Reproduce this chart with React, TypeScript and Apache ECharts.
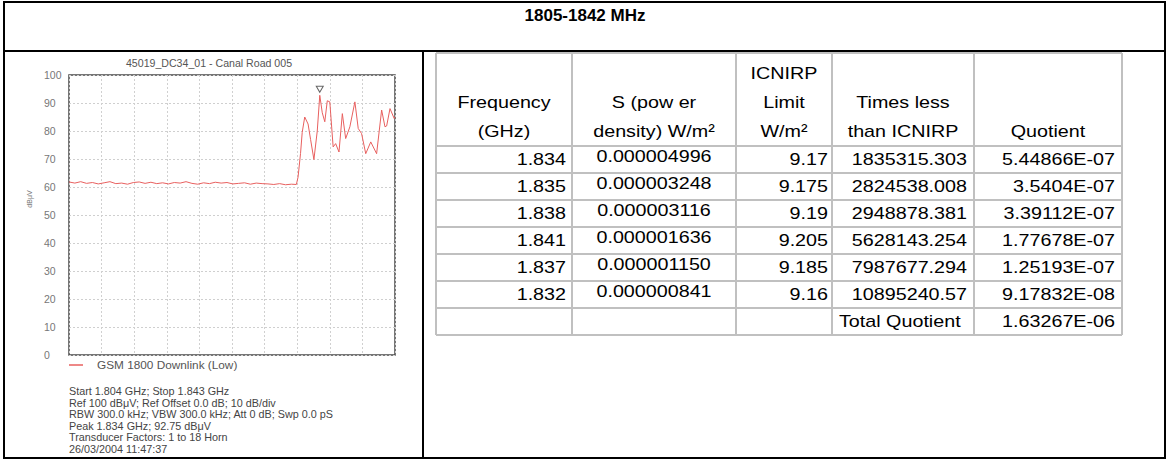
import React, { useEffect, useRef } from "react";
import * as echarts from "echarts";

// ---------- data ----------
const pageTitle = "1805-1842 MHz";
const chartTitle = "45019_DC34_01 - Canal Road 005";
const seriesName = "GSM 1800 Downlink (Low)";
const yUnit = "dBμV";
const yTicks = [0, 10, 20, 30, 40, 50, 60, 70, 80, 90, 100];
const freqStartGHz = 1.804;
const freqStopGHz = 1.843;

// flat noise floor below the band
const floorFreq = [
  1.804, 1.8047, 1.8054, 1.8061, 1.8068, 1.8075, 1.8082, 1.8089, 1.8096, 1.8103,
  1.811, 1.8117, 1.8124, 1.8131, 1.8138, 1.8145, 1.8152, 1.8159, 1.8166, 1.8173,
  1.818, 1.8187, 1.8194, 1.8201, 1.8208, 1.8215, 1.8222, 1.8229, 1.8236, 1.8243,
  1.825, 1.8257, 1.8264, 1.8271, 1.8278, 1.8285, 1.8292, 1.8299, 1.8306, 1.8312,
];
const floorLevel = [
  61.8, 61.4, 61.9, 61.3, 61.6, 61.1, 61.5, 61.9, 61.2, 61.4,
  61.0, 61.6, 61.8, 61.3, 61.7, 61.2, 61.5, 61.1, 61.6, 61.4,
  61.9, 61.3, 61.0, 61.5, 61.2, 61.7, 61.4, 61.6, 61.1, 61.3,
  61.5, 61.0, 61.4, 61.2, 61.1, 60.9, 61.2, 60.8, 61.0, 60.9,
];
// carriers in the downlink band
const bandFreq = [
  1.8314, 1.8317, 1.8319, 1.8322, 1.8326, 1.8329, 1.8333, 1.8337, 1.834, 1.8343,
  1.8346, 1.8349, 1.8352, 1.8356, 1.8359, 1.8363, 1.8367, 1.8371, 1.8376, 1.8382,
  1.8386, 1.839, 1.8395, 1.8401, 1.8408, 1.8414, 1.8418, 1.842, 1.8424, 1.8429, 1.843,
];
const bandLevel = [
  63.5, 72.0, 79.5, 85.0, 82.5, 77.0, 69.8, 80.0, 92.75, 86.5,
  83.3, 90.8, 90.4, 74.3, 75.5, 72.5, 86.2, 77.3, 81.5, 90.4,
  80.9, 79.1, 71.9, 76.1, 71.9, 87.5, 81.5, 81.8, 88.0, 84.5, 85.0,
];
const peakFreq = 1.834;
const peakLevel = 92.75;

const infoLines = [
  "Start 1.804 GHz; Stop 1.843 GHz",
  "Ref 100 dBμV; Ref Offset 0.0 dB; 10 dB/div",
  "RBW 300.0 kHz; VBW 300.0 kHz; Att 0 dB; Swp 0.0 pS",
  "Peak 1.834 GHz; 92.75 dBμV",
  "Transducer Factors: 1 to 18 Horn",
  "26/03/2004 11:47:37",
];

// table
const headerLines = [
  ["Frequency", "(GHz)"],
  ["S (pow er", "density) W/m²"],
  ["ICNIRP", "Limit", "W/m²"],
  ["Times less", "than ICNIRP"],
  ["Quotient"],
];
const tblFreq = ["1.834", "1.835", "1.838", "1.841", "1.837", "1.832"];
const tblS = ["0.000004996", "0.000003248", "0.000003116", "0.000001636", "0.000001150", "0.000000841"];
const tblLimit = ["9.17", "9.175", "9.19", "9.205", "9.185", "9.16"];
const tblTimes = ["1835315.303", "2824538.008", "2948878.381", "5628143.254", "7987677.294", "10895240.57"];
const tblQuot = ["5.44866E-07", "3.5404E-07", "3.39112E-07", "1.77678E-07", "1.25193E-07", "9.17832E-08"];
const totalLabel = "Total Quotient";
const totalValue = "1.63267E-06";

// ---------- layout ----------
const W = 1170;
const H = 460;
const FONT = 'Arial, "Liberation Sans", Helvetica, sans-serif';
const colX = [436, 572, 736, 832, 974, 1122];
const tblTop = 53;
const headBottom = 146;
const rowH = 27;
const TS = 17; // table font size
const TSX = 1.16; // horizontal stretch of table text

function txt(x: number, y: number, text: string, size: number, align: string, color = "#000", extra: any = {}) {
  const { fontWeight, ...rest } = extra;
  return {
    type: "text",
    x,
    y,
    silent: true,
    ...rest,
    style: {
      text,
      fill: color,
      fontSize: size,
      fontFamily: FONT,
      fontWeight: fontWeight || "normal",
      align,
      textAlign: align,
      verticalAlign: "middle",
      textVerticalAlign: "middle",
    },
  };
}
function ln(x1: number, y1: number, x2: number, y2: number, color: string, w: number) {
  return { type: "line", silent: true, shape: { x1, y1, x2, y2 }, style: { stroke: color, lineWidth: w } };
}

function buildGraphics() {
  const g: any[] = [];
  // outer frame
  g.push({ type: "rect", silent: true, shape: { x: 4, y: 2, width: 1161, height: 456 }, style: { fill: "none", stroke: "#000", lineWidth: 2 } });
  g.push(ln(4, 51, 1165, 51, "#000", 2));
  g.push(ln(423, 51, 423, 458, "#000", 2));
  g.push(txt(585, 15, pageTitle, 17, "center", "#000", { fontWeight: "bold" }));

  // left chart annotations
  g.push(txt(209, 63, chartTitle, 10.6, "center", "#555"));
  g.push(txt(29, 199, yUnit, 7, "center", "#777", { rotation: Math.PI / 2 }));
  infoLines.forEach((t, i) => g.push(txt(69, 391 + i * 11.6, t, 10.8, "left", "#444")));

  // table grid
  const nRows = tblFreq.length + 1;
  const tblBottom = headBottom + nRows * rowH;
  const grey = "#c0c0c0";
  colX.forEach((x) => g.push(ln(x, tblTop, x, tblBottom, grey, 2)));
  g.push(ln(colX[0], tblTop, colX[5], tblTop, grey, 2));
  g.push(ln(colX[0], headBottom, colX[5], headBottom, grey, 2));
  for (let r = 1; r <= nRows; r++) g.push(ln(colX[0], headBottom + r * rowH, colX[5], headBottom + r * rowH, grey, 2));

  const sx = { scaleX: TSX };
  // headers (bottom aligned, centered)
  headerLines.forEach((lines, c) => {
    const cx = (colX[c] + colX[c + 1]) / 2;
    lines.forEach((t, i) => {
      const y = headBottom - 15 - (lines.length - 1 - i) * 29;
      g.push(txt(cx, y, t, TS, "center", "#000", sx));
    });
  });
  // rows
  tblFreq.forEach((_, r) => {
    const y = headBottom + r * rowH + rowH / 2 - 1;
    g.push(txt(colX[1] - 6, y, tblFreq[r], TS, "right", "#000", sx));
    g.push(txt((colX[1] + colX[2]) / 2, y - 3, tblS[r], TS, "center", "#000", sx));
    g.push(txt(colX[3] - 4, y, tblLimit[r], TS, "right", "#000", sx));
    g.push(txt(colX[4] - 7, y, tblTimes[r], TS, "right", "#000", sx));
    g.push(txt(colX[5] - 7, y, tblQuot[r], TS, "right", "#000", sx));
  });
  const yT = headBottom + tblFreq.length * rowH + rowH / 2 - 1;
  g.push(txt(colX[3] + 7, yT, totalLabel, TS, "left", "#000", sx));
  g.push(txt(colX[5] - 7, yT, totalValue, TS, "right", "#000", sx));
  return g;
}

export default function App() {
  const ref = useRef<HTMLDivElement>(null);
  useEffect(() => {
    if (!ref.current) return;
    const chart = echarts.init(ref.current, null, { renderer: "svg", width: W, height: H });
    const lineData = [
      ...floorFreq.map((f, i) => [f, floorLevel[i]]),
      ...bandFreq.map((f, i) => [f, bandLevel[i]]),
    ];
    chart.setOption({
      animation: false,
      backgroundColor: "#fff",
      textStyle: { fontFamily: FONT },
      grid: { left: 69, top: 75, width: 326, height: 280, show: true, borderColor: "#4a4a4a", borderWidth: 1.5, backgroundColor: "#fff" },
      legend: {
        left: 69,
        top: 359,
        padding: 0,
        icon: "rect",
        itemWidth: 14,
        itemHeight: 1.5,
        data: [seriesName],
        textStyle: { fontSize: 11.8, color: "#555", padding: [0, 0, 0, 9] },
      },
      xAxis: [
        {
          type: "value",
          min: 0,
          max: 10,
          interval: 1,
          axisLine: { show: false },
          axisTick: { show: false },
          axisLabel: { show: false },
          splitLine: { show: true, lineStyle: { color: "#d0d0d0", type: [2, 2], width: 1 } },
        },
        { type: "value", min: freqStartGHz, max: freqStopGHz, show: false, splitLine: { show: false } },
      ],
      yAxis: {
        type: "value",
        min: yTicks[0],
        max: yTicks[yTicks.length - 1],
        interval: 10,
        axisLine: { show: false },
        axisTick: { show: false },
        axisLabel: { color: "#777", fontSize: 10.5, align: "left", margin: 25 },
        splitLine: { show: true, lineStyle: { color: "#cfcfcf", type: [2, 2], width: 1 } },
      },
      series: [
        {
          name: seriesName,
          type: "line",
          xAxisIndex: 1,
          symbol: "none",
          data: lineData,
          lineStyle: { color: "#e8605f", width: 1 },
          itemStyle: { color: "#e8605f" },
          markPoint: {
            silent: true,
            data: [
              {
                coord: [peakFreq, peakLevel],
                symbol: "triangle",
                symbolSize: [7, 6],
                symbolRotate: 180,
                symbolOffset: [0, -6],
                itemStyle: { color: "#fff", borderColor: "#666", borderWidth: 1 },
                label: { show: false },
              },
            ],
          },
        },
      ],
      graphic: buildGraphics(),
    });
    return () => chart.dispose();
  }, []);
  return <div ref={ref} style={{ position: "fixed", left: 0, top: 0, width: W, height: H, background: "#fff" }} />;
}
